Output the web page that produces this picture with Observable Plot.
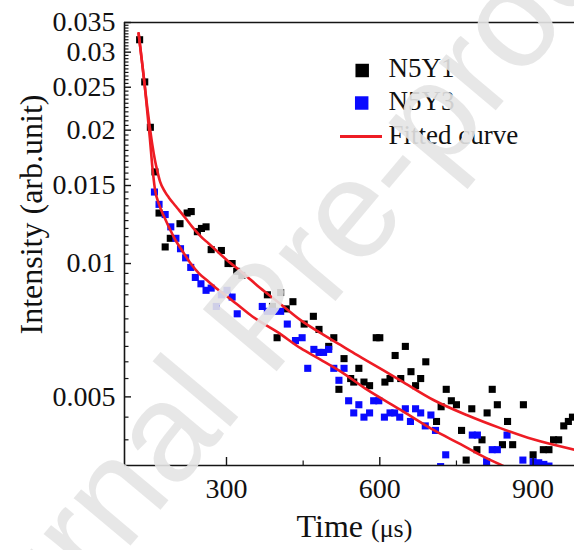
<!DOCTYPE html>
<html>
<head>
<meta charset="utf-8">
<script src="https://cdn.jsdelivr.net/npm/d3@7"></script>
<script src="https://cdn.jsdelivr.net/npm/@observablehq/plot@0.6"></script>
<style>
  html, body { margin: 0; padding: 0; background: #fff; overflow: hidden; }
</style>
</head>
<body>
<div id="chart"></div>
<script>
// ---- data ----
const n5y1Time = [130,140,151,160,168,180,190,209,223,231,243,251,260,270,290,303,311,320,330,380,390,399,406,417,430,452,470,481,500,510,520,530,543,549,559,569,580,593,600,610,620,630,641,650,661,670,680,690,711,720,730,740,750,760,769,780,790,800,810,820,830,840,850,860,881,900,920,931,940,950,960,969,977];
const n5y1Value = [0.0320,0.0257,0.0203,0.0161,0.0130,0.0109,0.0114,0.0123,0.0130,0.0131,0.0118,0.0120,0.0121,0.01075,0.0107,0.0100,0.0100,0.0096,0.0094,0.0085,0.0080,0.0068,0.0086,0.0079,0.0082,0.0073,0.0076,0.0071,0.0065,0.0068,0.0052,0.0061,0.0055,0.0054,0.0058,0.0054,0.0053,0.0068,0.0068,0.0054,0.0055,0.0062,0.0055,0.0065,0.0057,0.0053,0.0055,0.0060,0.0044,0.00475,0.0052,0.0049,0.0048,0.0042,0.0036,0.0047,0.0038,0.0040,0.0046,0.0052,0.0048,0.0039,0.0044,0.0039,0.0048,0.0037,0.0038,0.0038,0.0040,0.0040,0.0043,0.0044,0.0045];

const n5y3Time = [159,168,180,191,201,210,220,230,239,250,260,270,280,290,301,311,321,370,380,393,406,419,435,448,459,471,481,490,500,510,520,530,539,549,559,569,580,588,598,609,620,629,639,650,660,670,680,689,700,709,719,729,781,791,809,820,830,849,880,900,911,921,931];
const n5y3Value = [0.0145,0.0136,0.0129,0.0121,0.0114,0.0108,0.0103,0.0098,0.0093,0.0090,0.0087,0.0088,0.0080,0.0085,0.0087,0.0084,0.0077,0.0080,0.0078,0.0078,0.0078,0.0073,0.0067,0.0068,0.0058,0.0064,0.0063,0.0063,0.0064,0.0058,0.00545,0.0058,0.0049,0.0046,0.0048,0.0045,0.0046,0.0049,0.0049,0.0045,0.0046,0.0046,0.0045,0.0047,0.0044,0.0047,0.0046,0.0043,0.00455,0.0042,0.00348,0.0037,0.0041,0.0041,0.00357,0.0038,0.0038,0.0041,0.0036,0.00357,0.00355,0.00352,0.00349];

const fitN5Y1Time = [128,135,140,145,150,155,160,165,170,180,187,200,207,220,233,250,265,300,333,366,400,445,490,523,542,575,640,705,770,836,900,981];
const fitN5Y1Value = [0.0331,0.0283,0.0252,0.0225,0.0203,0.0185,0.0171,0.0161,0.0153,0.0145,0.0141,0.0135,0.0132,0.01265,0.0121,0.0115,0.0111,0.0102,0.0095,0.0088,0.0082,0.00745,0.0069,0.00655,0.00635,0.00603,0.00545,0.00492,0.00455,0.00425,0.00401,0.00380];

const fitN5Y3Time = [128,135,140,145,150,155,160,168,180,190,200,213,230,246,265,285,300,320,350,400,445,484,523,575,640,705,758,800,849,880];
const fitN5Y3Value = [0.0331,0.0283,0.0252,0.0220,0.0192,0.0165,0.0147,0.0136,0.0126,0.0119,0.0113,0.0107,0.0100,0.0095,0.0091,0.0087,0.00845,0.0081,0.0076,0.0070,0.00644,0.00607,0.00571,0.00519,0.00468,0.00421,0.00391,0.00368,0.00346,0.00333];

const xDomain = [100.4, 981];
const yDomain = [0.0035, 0.035];
const xTickValues = [300, 600, 900];
const xTickLabels = ["300", "600", "900"];
const xMinorTicks = [450, 750];
const yTickValues = [0.005, 0.01, 0.015, 0.02, 0.025, 0.03, 0.035];
const yTickLabels = ["0.005", "0.01", "0.015", "0.02", "0.025", "0.03", "0.035"];
const yMinorTicks = d3.range(8, 70).filter(i => i % 10 !== 0).map(i => +(i * 0.0005).toFixed(4));

const seriesNames = ["N5Y1", "N5Y3", "Fitted curve"];
const xTitle = "Time (μs)";
const yTitle = "Intensity (arb.unit)";
const watermark = "Journal Pre-proof";

const colBlack = "#000000";
const colBlue = "#0a0aff";
const colRed = "#ee1c24";
const axisColor = "#151515";

const n5y1 = n5y1Time.map((t, i) => ({t, v: n5y1Value[i]}));
const n5y3 = n5y3Time.map((t, i) => ({t, v: n5y3Value[i]}));
const fit1 = fitN5Y1Time.map((t, i) => ({t, v: fitN5Y1Value[i]}));
const fit3 = fitN5Y3Time.map((t, i) => ({t, v: fitN5Y3Value[i]}));

const lineSymbol = { draw(ctx) { ctx.moveTo(-21, 0); ctx.lineTo(21, 0); } };

const serif = "'Liberation Serif', 'Times New Roman', serif";

const chart = Plot.plot({
  width: 574,
  height: 550,
  marginLeft: 124,
  marginRight: 0,
  marginTop: 22,
  marginBottom: 85,
  x: {domain: xDomain},
  y: {type: "log", domain: yDomain},
  style: {fontFamily: serif, fontSize: "28px", color: "#111", background: "#fff", overflow: "visible"},
  marks: [
    // data
    Plot.dot(n5y1, {x: "t", y: "v", symbol: "square", r: 4, fill: colBlack, clip: true}),
    Plot.dot(n5y3, {x: "t", y: "v", symbol: "square", r: 4, fill: colBlue, clip: true}),
    Plot.line(fit1, {x: "t", y: "v", curve: "monotone-x", stroke: colRed, strokeWidth: 2.6, clip: true}),
    Plot.line(fit3, {x: "t", y: "v", curve: "monotone-x", stroke: colRed, strokeWidth: 2.6, clip: true}),
    // frame lines
    Plot.ruleX([xDomain[0]], {stroke: axisColor, strokeWidth: 1.6}),
    Plot.ruleY([yDomain[0]], {stroke: axisColor, strokeWidth: 1.6}),
    Plot.ruleY([yDomain[1]], {stroke: axisColor, strokeWidth: 1.6}),
    // y axis
    Plot.axisY(yTickValues, {anchor: "left", tickSize: 0, tickPadding: 9, fontSize: 28, label: null,
      tickFormat: d => yTickLabels[yTickValues.indexOf(d)]}),
    Plot.axisY(yTickValues, {anchor: "left", tickSize: -7, tickFormat: () => "", label: null, stroke: axisColor, strokeWidth: 1.4}),
    Plot.axisY(yMinorTicks, {anchor: "left", tickSize: -4.5, tickFormat: () => "", label: null, stroke: axisColor, strokeWidth: 1.2}),
    // x axis
    Plot.axisX(xTickValues, {anchor: "bottom", tickSize: 0, tickPadding: 13, fontSize: 28, label: null,
      tickFormat: d => xTickLabels[xTickValues.indexOf(d)]}),
    Plot.axisX(xTickValues, {anchor: "bottom", tickSize: -8, tickFormat: () => "", label: null, stroke: axisColor, strokeWidth: 1.4}),
    Plot.axisX(xMinorTicks, {anchor: "bottom", tickSize: -4.5, tickFormat: () => "", label: null, stroke: axisColor, strokeWidth: 1.2}),
    // axis titles
    Plot.text([xTitle], {frameAnchor: "bottom", textAnchor: "middle", lineAnchor: "bottom", dx: 5, dy: 71.5, fontSize: 32, fill: "#111"}),
    Plot.text([yTitle], {frameAnchor: "left", textAnchor: "middle", lineAnchor: "bottom", rotate: -90, dx: -83, dy: -29.5, fontSize: 32, fill: "#111"}),
    // legend
    Plot.dot([seriesNames[0]], {frameAnchor: "top-left", dx: 237.7, dy: 48, symbol: "square", r: 7.6, fill: colBlack}),
    Plot.dot([seriesNames[1]], {frameAnchor: "top-left", dx: 237.2, dy: 80.5, symbol: "square", r: 7.6, fill: colBlue}),
    Plot.dot([seriesNames[2]], {frameAnchor: "top-left", dx: 236.5, dy: 114, symbol: lineSymbol, r: 5, stroke: colRed, strokeWidth: 3, fill: "none"}),
    Plot.text([seriesNames[0]], {frameAnchor: "top-left", textAnchor: "start", lineAnchor: "bottom", dx: 264, dy: 54, fontSize: 27, fill: "#111"}),
    Plot.text([seriesNames[1]], {frameAnchor: "top-left", textAnchor: "start", lineAnchor: "bottom", dx: 264, dy: 87.3, fontSize: 27, fill: "#111"}),
    Plot.text([seriesNames[2]], {frameAnchor: "top-left", textAnchor: "start", lineAnchor: "bottom", dx: 264, dy: 121.3, fontSize: 27, fill: "#111"}),
    // watermark
    Plot.text([watermark], {frameAnchor: "top-left", textAnchor: "middle", lineAnchor: "middle", dx: 138, dy: 296, rotate: -50, fontSize: 140,
      fontFamily: "'Liberation Sans', Arial, sans-serif", fill: "#e4e4e4", fillOpacity: 0.9})
  ]
});

// smaller unit in the x title
chart.querySelectorAll("text").forEach(el => {
  if (el.textContent === xTitle) {
    el.textContent = "";
    const a = document.createElementNS("http://www.w3.org/2000/svg", "tspan");
    a.textContent = "Time ";
    const b = document.createElementNS("http://www.w3.org/2000/svg", "tspan");
    b.textContent = "(μs)";
    b.setAttribute("font-size", "26");
    el.appendChild(a);
    el.appendChild(b);
  }
});

document.getElementById("chart").appendChild(chart);
</script>
</body>
</html>
